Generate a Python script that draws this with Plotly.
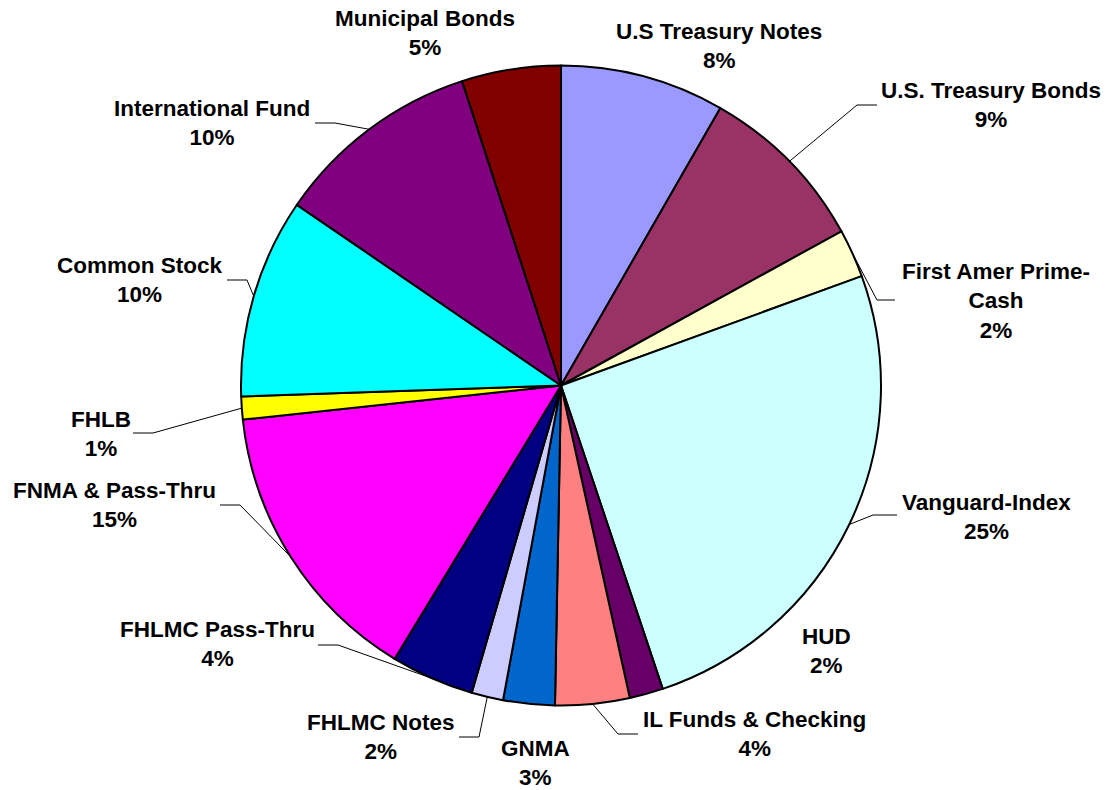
import math
import plotly.graph_objects as go

# ---- data ----
categories = ["U.S Treasury Notes", "U.S. Treasury Bonds", "First Amer Prime-Cash",
              "Vanguard-Index", "HUD", "IL Funds & Checking", "GNMA", "FHLMC Notes",
              "FHLMC Pass-Thru", "FNMA & Pass-Thru", "FHLB", "Common Stock",
              "International Fund", "Municipal Bonds"]
values = [8.3, 8.7, 2.45, 25.4, 1.7, 3.75, 2.6, 1.6, 4.2, 14.6, 1.15, 10.1, 10.45, 5.0]
label_text = ["U.S Treasury Notes", "U.S. Treasury Bonds", "First Amer Prime-<br>Cash",
              "Vanguard-Index", "HUD", "IL Funds & Checking", "GNMA", "FHLMC Notes",
              "FHLMC Pass-Thru", "FNMA & Pass-Thru", "FHLB", "Common Stock",
              "International Fund", "Municipal Bonds"]

# ---- styles / layout ----
colors = ["#9999FF", "#993366", "#FFFFCC", "#CCFFFF", "#660066", "#FF8080", "#0066CC",
          "#CCCCFF", "#000080", "#FF00FF", "#FFFF00", "#00FFFF", "#800080", "#800000"]

W, H = 1109, 790
cx, cy, R = 561, 385.5, 320

# label block centres (pixels)
label_pos = [(719, 46), (991, 105), (996, 301), (986, 517), (826, 651), (754, 734),
             (535, 763), (381, 737), (217, 644), (114, 505), (101, 434), (140, 280),
             (212, 123), (425, 33)]
# leader elbow / end points (pixels), None = no leader
leaders = [None, ((857, 105), (877, 105)), ((877, 300), (895, 300)),
           ((873, 515), (897, 515)), None, ((618, 734), (638, 734)), None,
           ((479, 737), (459, 737)), ((338, 645), (318, 645)), ((240, 505), (220, 505)),
           ((153, 433), (133, 433)), ((247, 280), (227, 280)), ((335, 123), (315, 123)),
           None]


def px(x):
    return x / W


def py(y):
    return 1 - y / H


fig = go.Figure(go.Pie(
    labels=categories, values=values, sort=False, direction="clockwise", rotation=0,
    marker=dict(colors=colors, line=dict(color="black", width=2)),
    textinfo="none", hoverinfo="label+percent",
    domain=dict(x=[px(cx - R), px(cx + R)], y=[py(cy + R), py(cy - R)]),
    showlegend=False,
))

total = sum(values)
annotations = []
shapes = []
cum = 0.0
for i, v in enumerate(values):
    mid = (cum + v / 2) / total
    cum += v
    ang = 2 * math.pi * mid
    ex, ey = cx + R * math.sin(ang), cy - R * math.cos(ang)
    pct = round(v / total * 100)
    lx, ly = label_pos[i]
    annotations.append(dict(
        x=px(lx), y=py(ly), xref="paper", yref="paper", xanchor="center", yanchor="middle",
        text=f"<b>{label_text[i]}<br>{pct}%</b>", showarrow=False, align="center",
        font=dict(family="Liberation Sans, Arial, sans-serif", size=22.5, color="black"),
    ))
    if leaders[i] is not None:
        (bx, by), (tx, ty) = leaders[i]
        path = (f"M {px(ex)},{py(ey)} L {px(bx)},{py(by)} L {px(tx)},{py(ty)}")
        shapes.append(dict(type="path", path=path, xref="paper", yref="paper",
                           line=dict(color="black", width=1), layer="below"))

fig.update_layout(
    width=W, height=H, margin=dict(l=0, r=0, t=0, b=0),
    paper_bgcolor="white", plot_bgcolor="white",
    annotations=annotations, shapes=shapes,
)

fig.write_html("out.html", config={"displayModeBar": False},
               post_script="document.body.style.margin='0px';")
